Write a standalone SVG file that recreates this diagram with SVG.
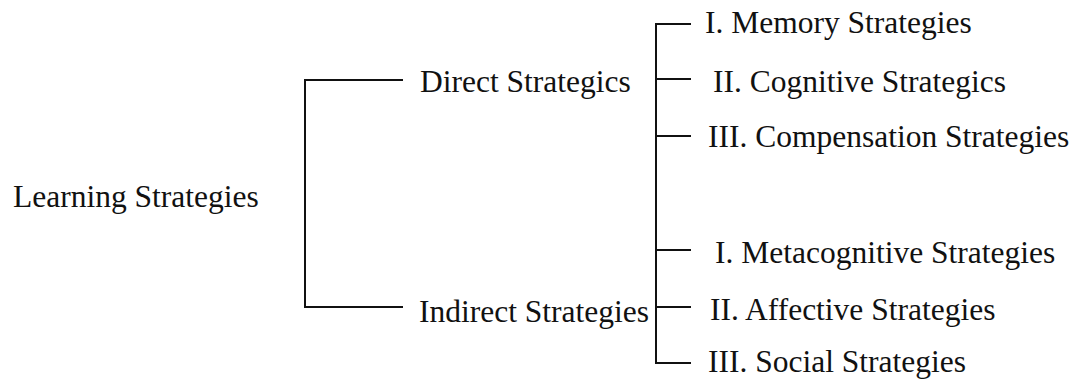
<svg xmlns="http://www.w3.org/2000/svg" width="1073" height="381" viewBox="0 0 1073 381">
<style>
text{font-family:"Liberation Serif","Times New Roman",serif;font-size:31.5px;fill:#111}
.c{fill:none;stroke:#111;stroke-width:2;stroke-linecap:square}
</style>
<rect width="1073" height="381" fill="#fff"/>
<g id="connectors">
<path class="c" d="M402 80H305V307H402"/>
<path class="c" d="M690 24H656V363H690M656 79H690M656 136H690M656 250H690M656 307H690"/>
</g>
<g id="n-learning"><text x="13" y="207">Learning Strategies</text></g>
<g id="n-direct"><text x="420" y="92">Direct Strategics</text></g>
<g id="n-indirect"><text x="419" y="322">Indirect Strategies</text></g>
<g id="n-memory"><text x="705" y="33">I. Memory Strategies</text></g>
<g id="n-cognitive"><text x="713" y="92">II. Cognitive Strategics</text></g>
<g id="n-compensation"><text x="708" y="147">III. Compensation Strategies</text></g>
<g id="n-metacognitive"><text x="715" y="263">I. Metacognitive Strategies</text></g>
<g id="n-affective"><text x="710" y="320">II. Affective Strategies</text></g>
<g id="n-social"><text x="708" y="372">III. Social Strategies</text></g>
</svg>
